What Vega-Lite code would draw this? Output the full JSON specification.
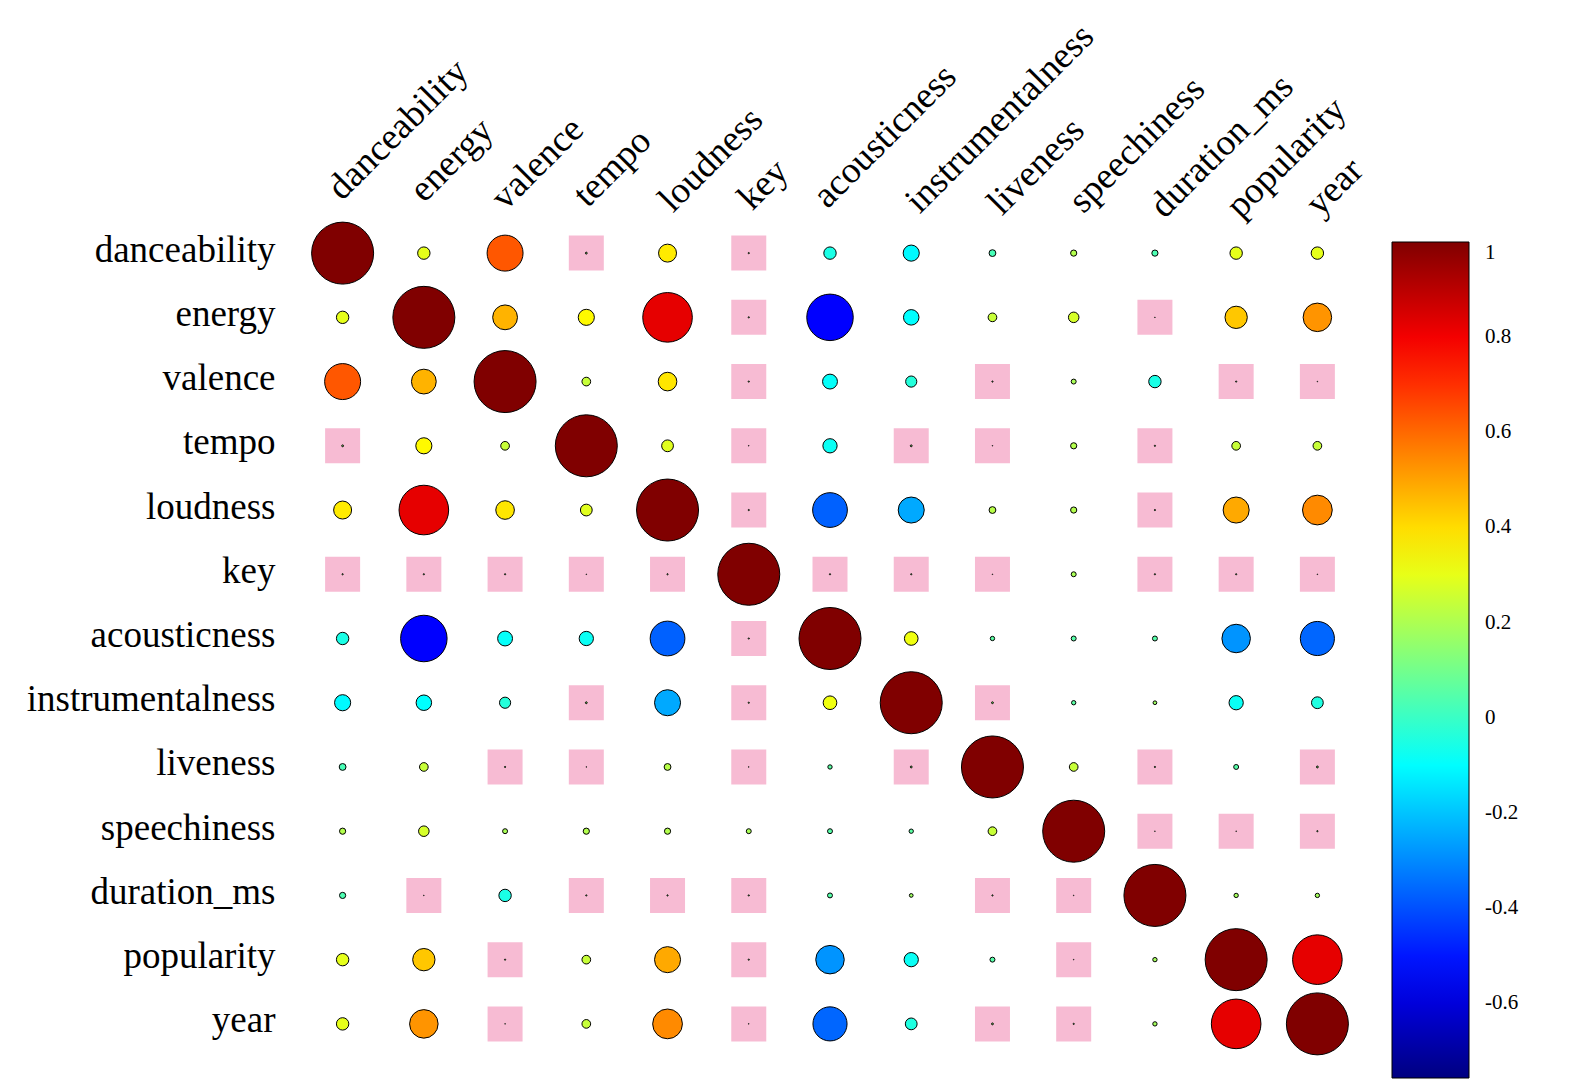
{
  "$schema": "https://vega.github.io/schema/vega-lite/v6.json",
  "autosize": {"type": "none"},
  "width": 1056,
  "height": 835,
  "padding": {"left": 302, "top": 221, "right": 232, "bottom": 23},
  "background": "white",
  "config": {"view": {"stroke": null}, "font": "Liberation Serif"},
  "data": {"values": [
    {"row":"danceability","col":"danceability","r":1,"m":1,"sig":1},
    {"row":"danceability","col":"energy","r":0.2,"m":0.2,"sig":1},
    {"row":"danceability","col":"valence","r":0.58,"m":0.58,"sig":1},
    {"row":"danceability","col":"tempo","r":0.03,"m":0.03,"sig":0},
    {"row":"danceability","col":"loudness","r":0.29,"m":0.29,"sig":1},
    {"row":"danceability","col":"key","r":0.02,"m":0.02,"sig":0},
    {"row":"danceability","col":"acousticness","r":-0.2,"m":0.2,"sig":1},
    {"row":"danceability","col":"instrumentalness","r":-0.26,"m":0.26,"sig":1},
    {"row":"danceability","col":"liveness","r":-0.11,"m":0.11,"sig":1},
    {"row":"danceability","col":"speechiness","r":0.1,"m":0.1,"sig":1},
    {"row":"danceability","col":"duration_ms","r":-0.1,"m":0.1,"sig":1},
    {"row":"danceability","col":"popularity","r":0.2,"m":0.2,"sig":1},
    {"row":"danceability","col":"year","r":0.2,"m":0.2,"sig":1},

    {"row":"energy","col":"danceability","r":0.2,"m":0.2,"sig":1},
    {"row":"energy","col":"energy","r":1,"m":1,"sig":1},
    {"row":"energy","col":"valence","r":0.4,"m":0.4,"sig":1},
    {"row":"energy","col":"tempo","r":0.26,"m":0.26,"sig":1},
    {"row":"energy","col":"loudness","r":0.8,"m":0.8,"sig":1},
    {"row":"energy","col":"key","r":0.02,"m":0.02,"sig":0},
    {"row":"energy","col":"acousticness","r":-0.75,"m":0.75,"sig":1},
    {"row":"energy","col":"instrumentalness","r":-0.25,"m":0.25,"sig":1},
    {"row":"energy","col":"liveness","r":0.14,"m":0.14,"sig":1},
    {"row":"energy","col":"speechiness","r":0.17,"m":0.17,"sig":1},
    {"row":"energy","col":"duration_ms","r":0.01,"m":0.01,"sig":0},
    {"row":"energy","col":"popularity","r":0.36,"m":0.36,"sig":1},
    {"row":"energy","col":"year","r":0.46,"m":0.46,"sig":1},

    {"row":"valence","col":"danceability","r":0.58,"m":0.58,"sig":1},
    {"row":"valence","col":"energy","r":0.4,"m":0.4,"sig":1},
    {"row":"valence","col":"valence","r":1,"m":1,"sig":1},
    {"row":"valence","col":"tempo","r":0.14,"m":0.14,"sig":1},
    {"row":"valence","col":"loudness","r":0.3,"m":0.3,"sig":1},
    {"row":"valence","col":"key","r":0.02,"m":0.02,"sig":0},
    {"row":"valence","col":"acousticness","r":-0.24,"m":0.24,"sig":1},
    {"row":"valence","col":"instrumentalness","r":-0.18,"m":0.18,"sig":1},
    {"row":"valence","col":"liveness","r":0.02,"m":0.02,"sig":0},
    {"row":"valence","col":"speechiness","r":0.08,"m":0.08,"sig":1},
    {"row":"valence","col":"duration_ms","r":-0.2,"m":0.2,"sig":1},
    {"row":"valence","col":"popularity","r":0.02,"m":0.02,"sig":0},
    {"row":"valence","col":"year","r":0.01,"m":0.01,"sig":0},

    {"row":"tempo","col":"danceability","r":0.03,"m":0.03,"sig":0},
    {"row":"tempo","col":"energy","r":0.26,"m":0.26,"sig":1},
    {"row":"tempo","col":"valence","r":0.14,"m":0.14,"sig":1},
    {"row":"tempo","col":"tempo","r":1,"m":1,"sig":1},
    {"row":"tempo","col":"loudness","r":0.19,"m":0.19,"sig":1},
    {"row":"tempo","col":"key","r":0.01,"m":0.01,"sig":0},
    {"row":"tempo","col":"acousticness","r":-0.23,"m":0.23,"sig":1},
    {"row":"tempo","col":"instrumentalness","r":0.03,"m":0.03,"sig":0},
    {"row":"tempo","col":"liveness","r":0.01,"m":0.01,"sig":0},
    {"row":"tempo","col":"speechiness","r":0.1,"m":0.1,"sig":1},
    {"row":"tempo","col":"duration_ms","r":0.02,"m":0.02,"sig":0},
    {"row":"tempo","col":"popularity","r":0.14,"m":0.14,"sig":1},
    {"row":"tempo","col":"year","r":0.14,"m":0.14,"sig":1},

    {"row":"loudness","col":"danceability","r":0.29,"m":0.29,"sig":1},
    {"row":"loudness","col":"energy","r":0.8,"m":0.8,"sig":1},
    {"row":"loudness","col":"valence","r":0.3,"m":0.3,"sig":1},
    {"row":"loudness","col":"tempo","r":0.19,"m":0.19,"sig":1},
    {"row":"loudness","col":"loudness","r":1,"m":1,"sig":1},
    {"row":"loudness","col":"key","r":0.02,"m":0.02,"sig":0},
    {"row":"loudness","col":"acousticness","r":-0.56,"m":0.56,"sig":1},
    {"row":"loudness","col":"instrumentalness","r":-0.42,"m":0.42,"sig":1},
    {"row":"loudness","col":"liveness","r":0.11,"m":0.11,"sig":1},
    {"row":"loudness","col":"speechiness","r":0.1,"m":0.1,"sig":1},
    {"row":"loudness","col":"duration_ms","r":0.02,"m":0.02,"sig":0},
    {"row":"loudness","col":"popularity","r":0.42,"m":0.42,"sig":1},
    {"row":"loudness","col":"year","r":0.48,"m":0.48,"sig":1},

    {"row":"key","col":"danceability","r":0.02,"m":0.02,"sig":0},
    {"row":"key","col":"energy","r":0.02,"m":0.02,"sig":0},
    {"row":"key","col":"valence","r":0.02,"m":0.02,"sig":0},
    {"row":"key","col":"tempo","r":0.01,"m":0.01,"sig":0},
    {"row":"key","col":"loudness","r":0.02,"m":0.02,"sig":0},
    {"row":"key","col":"key","r":1,"m":1,"sig":1},
    {"row":"key","col":"acousticness","r":0.02,"m":0.02,"sig":0},
    {"row":"key","col":"instrumentalness","r":0.02,"m":0.02,"sig":0},
    {"row":"key","col":"liveness","r":0.01,"m":0.01,"sig":0},
    {"row":"key","col":"speechiness","r":0.08,"m":0.08,"sig":1},
    {"row":"key","col":"duration_ms","r":0.02,"m":0.02,"sig":0},
    {"row":"key","col":"popularity","r":0.02,"m":0.02,"sig":0},
    {"row":"key","col":"year","r":0.01,"m":0.01,"sig":0},

    {"row":"acousticness","col":"danceability","r":-0.2,"m":0.2,"sig":1},
    {"row":"acousticness","col":"energy","r":-0.75,"m":0.75,"sig":1},
    {"row":"acousticness","col":"valence","r":-0.24,"m":0.24,"sig":1},
    {"row":"acousticness","col":"tempo","r":-0.23,"m":0.23,"sig":1},
    {"row":"acousticness","col":"loudness","r":-0.56,"m":0.56,"sig":1},
    {"row":"acousticness","col":"key","r":0.02,"m":0.02,"sig":0},
    {"row":"acousticness","col":"acousticness","r":1,"m":1,"sig":1},
    {"row":"acousticness","col":"instrumentalness","r":0.22,"m":0.22,"sig":1},
    {"row":"acousticness","col":"liveness","r":-0.07,"m":0.07,"sig":1},
    {"row":"acousticness","col":"speechiness","r":-0.08,"m":0.08,"sig":1},
    {"row":"acousticness","col":"duration_ms","r":-0.08,"m":0.08,"sig":1},
    {"row":"acousticness","col":"popularity","r":-0.46,"m":0.46,"sig":1},
    {"row":"acousticness","col":"year","r":-0.55,"m":0.55,"sig":1},

    {"row":"instrumentalness","col":"danceability","r":-0.26,"m":0.26,"sig":1},
    {"row":"instrumentalness","col":"energy","r":-0.25,"m":0.25,"sig":1},
    {"row":"instrumentalness","col":"valence","r":-0.18,"m":0.18,"sig":1},
    {"row":"instrumentalness","col":"tempo","r":0.03,"m":0.03,"sig":0},
    {"row":"instrumentalness","col":"loudness","r":-0.42,"m":0.42,"sig":1},
    {"row":"instrumentalness","col":"key","r":0.02,"m":0.02,"sig":0},
    {"row":"instrumentalness","col":"acousticness","r":0.22,"m":0.22,"sig":1},
    {"row":"instrumentalness","col":"instrumentalness","r":1,"m":1,"sig":1},
    {"row":"instrumentalness","col":"liveness","r":0.03,"m":0.03,"sig":0},
    {"row":"instrumentalness","col":"speechiness","r":-0.07,"m":0.07,"sig":1},
    {"row":"instrumentalness","col":"duration_ms","r":0.06,"m":0.06,"sig":1},
    {"row":"instrumentalness","col":"popularity","r":-0.23,"m":0.23,"sig":1},
    {"row":"instrumentalness","col":"year","r":-0.19,"m":0.19,"sig":1},

    {"row":"liveness","col":"danceability","r":-0.11,"m":0.11,"sig":1},
    {"row":"liveness","col":"energy","r":0.14,"m":0.14,"sig":1},
    {"row":"liveness","col":"valence","r":0.02,"m":0.02,"sig":0},
    {"row":"liveness","col":"tempo","r":0.01,"m":0.01,"sig":0},
    {"row":"liveness","col":"loudness","r":0.11,"m":0.11,"sig":1},
    {"row":"liveness","col":"key","r":0.01,"m":0.01,"sig":0},
    {"row":"liveness","col":"acousticness","r":-0.07,"m":0.07,"sig":1},
    {"row":"liveness","col":"instrumentalness","r":0.03,"m":0.03,"sig":0},
    {"row":"liveness","col":"liveness","r":1,"m":1,"sig":1},
    {"row":"liveness","col":"speechiness","r":0.14,"m":0.14,"sig":1},
    {"row":"liveness","col":"duration_ms","r":0.02,"m":0.02,"sig":0},
    {"row":"liveness","col":"popularity","r":-0.08,"m":0.08,"sig":1},
    {"row":"liveness","col":"year","r":0.03,"m":0.03,"sig":0},

    {"row":"speechiness","col":"danceability","r":0.1,"m":0.1,"sig":1},
    {"row":"speechiness","col":"energy","r":0.17,"m":0.17,"sig":1},
    {"row":"speechiness","col":"valence","r":0.08,"m":0.08,"sig":1},
    {"row":"speechiness","col":"tempo","r":0.1,"m":0.1,"sig":1},
    {"row":"speechiness","col":"loudness","r":0.1,"m":0.1,"sig":1},
    {"row":"speechiness","col":"key","r":0.08,"m":0.08,"sig":1},
    {"row":"speechiness","col":"acousticness","r":-0.08,"m":0.08,"sig":1},
    {"row":"speechiness","col":"instrumentalness","r":-0.07,"m":0.07,"sig":1},
    {"row":"speechiness","col":"liveness","r":0.14,"m":0.14,"sig":1},
    {"row":"speechiness","col":"speechiness","r":1,"m":1,"sig":1},
    {"row":"speechiness","col":"duration_ms","r":0.01,"m":0.01,"sig":0},
    {"row":"speechiness","col":"popularity","r":0.01,"m":0.01,"sig":0},
    {"row":"speechiness","col":"year","r":0.02,"m":0.02,"sig":0},

    {"row":"duration_ms","col":"danceability","r":-0.1,"m":0.1,"sig":1},
    {"row":"duration_ms","col":"energy","r":0.01,"m":0.01,"sig":0},
    {"row":"duration_ms","col":"valence","r":-0.2,"m":0.2,"sig":1},
    {"row":"duration_ms","col":"tempo","r":0.02,"m":0.02,"sig":0},
    {"row":"duration_ms","col":"loudness","r":0.02,"m":0.02,"sig":0},
    {"row":"duration_ms","col":"key","r":0.02,"m":0.02,"sig":0},
    {"row":"duration_ms","col":"acousticness","r":-0.08,"m":0.08,"sig":1},
    {"row":"duration_ms","col":"instrumentalness","r":0.06,"m":0.06,"sig":1},
    {"row":"duration_ms","col":"liveness","r":0.02,"m":0.02,"sig":0},
    {"row":"duration_ms","col":"speechiness","r":0.01,"m":0.01,"sig":0},
    {"row":"duration_ms","col":"duration_ms","r":1,"m":1,"sig":1},
    {"row":"duration_ms","col":"popularity","r":0.07,"m":0.07,"sig":1},
    {"row":"duration_ms","col":"year","r":0.07,"m":0.07,"sig":1},

    {"row":"popularity","col":"danceability","r":0.2,"m":0.2,"sig":1},
    {"row":"popularity","col":"energy","r":0.36,"m":0.36,"sig":1},
    {"row":"popularity","col":"valence","r":0.02,"m":0.02,"sig":0},
    {"row":"popularity","col":"tempo","r":0.14,"m":0.14,"sig":1},
    {"row":"popularity","col":"loudness","r":0.42,"m":0.42,"sig":1},
    {"row":"popularity","col":"key","r":0.02,"m":0.02,"sig":0},
    {"row":"popularity","col":"acousticness","r":-0.46,"m":0.46,"sig":1},
    {"row":"popularity","col":"instrumentalness","r":-0.23,"m":0.23,"sig":1},
    {"row":"popularity","col":"liveness","r":-0.08,"m":0.08,"sig":1},
    {"row":"popularity","col":"speechiness","r":0.01,"m":0.01,"sig":0},
    {"row":"popularity","col":"duration_ms","r":0.07,"m":0.07,"sig":1},
    {"row":"popularity","col":"popularity","r":1,"m":1,"sig":1},
    {"row":"popularity","col":"year","r":0.8,"m":0.8,"sig":1},

    {"row":"year","col":"danceability","r":0.2,"m":0.2,"sig":1},
    {"row":"year","col":"energy","r":0.46,"m":0.46,"sig":1},
    {"row":"year","col":"valence","r":0.01,"m":0.01,"sig":0},
    {"row":"year","col":"tempo","r":0.14,"m":0.14,"sig":1},
    {"row":"year","col":"loudness","r":0.48,"m":0.48,"sig":1},
    {"row":"year","col":"key","r":0.01,"m":0.01,"sig":0},
    {"row":"year","col":"acousticness","r":-0.55,"m":0.55,"sig":1},
    {"row":"year","col":"instrumentalness","r":-0.19,"m":0.19,"sig":1},
    {"row":"year","col":"liveness","r":0.03,"m":0.03,"sig":0},
    {"row":"year","col":"speechiness","r":0.02,"m":0.02,"sig":0},
    {"row":"year","col":"duration_ms","r":0.07,"m":0.07,"sig":1},
    {"row":"year","col":"popularity","r":0.8,"m":0.8,"sig":1},
    {"row":"year","col":"year","r":1,"m":1,"sig":1}
  ]},
  "encoding": {
    "x": {
      "field": "col", "type": "nominal",
      "sort": ["danceability","energy","valence","tempo","loudness","key","acousticness","instrumentalness","liveness","speechiness","duration_ms","popularity","year"],
      "scale": {"paddingInner": 0, "paddingOuter": 0},
      "axis": {
        "orient": "top", "title": null, "domain": false, "ticks": false, "tickSize": 0, "grid": false,
        "labelAngle": -45, "labelAlign": "left", "labelBaseline": "alphabetic",
        "labelFont": "Liberation Serif", "labelFontSize": 37, "labelColor": "black",
        "labelLimit": 0, "labelOverlap": false, "labelBound": false,
        "labelOffset": {
          "condition": [
            {"test": "datum.value === 'danceability'", "value": -1},
            {"test": "datum.value === 'energy'", "value": 0},
            {"test": "datum.value === 'valence'", "value": 0},
            {"test": "datum.value === 'tempo'", "value": 1},
            {"test": "datum.value === 'loudness'", "value": 5},
            {"test": "datum.value === 'key'", "value": 3},
            {"test": "datum.value === 'acousticness'", "value": -3},
            {"test": "datum.value === 'instrumentalness'", "value": 8},
            {"test": "datum.value === 'liveness'", "value": 9},
            {"test": "datum.value === 'speechiness'", "value": 9},
            {"test": "datum.value === 'duration_ms'", "value": 9},
            {"test": "datum.value === 'popularity'", "value": 4}
          ],
          "value": 2
        },
        "labelPadding": {
          "condition": [
            {"test": "datum.value === 'danceability'", "value": 20},
            {"test": "datum.value === 'energy'", "value": 18},
            {"test": "datum.value === 'valence'", "value": 10},
            {"test": "datum.value === 'tempo'", "value": 13},
            {"test": "datum.value === 'loudness'", "value": 8},
            {"test": "datum.value === 'key'", "value": 10},
            {"test": "datum.value === 'acousticness'", "value": 12},
            {"test": "datum.value === 'instrumentalness'", "value": 7},
            {"test": "datum.value === 'liveness'", "value": 5},
            {"test": "datum.value === 'speechiness'", "value": 7},
            {"test": "datum.value === 'duration_ms'", "value": 2},
            {"test": "datum.value === 'popularity'", "value": 2}
          ],
          "value": 4
        }
      }
    },
    "y": {
      "field": "row", "type": "nominal",
      "sort": ["danceability","energy","valence","tempo","loudness","key","acousticness","instrumentalness","liveness","speechiness","duration_ms","popularity","year"],
      "scale": {"paddingInner": 0, "paddingOuter": 0},
      "axis": {
        "orient": "left", "title": null, "domain": false, "ticks": false, "tickSize": 0, "grid": false,
        "labelFont": "Liberation Serif", "labelFontSize": 37, "labelColor": "black",
        "labelPadding": 27, "labelLimit": 0, "labelOffset": -3
      }
    }
  },
  "layer": [
    {
      "transform": [{"filter": "datum.sig == 0"}],
      "mark": {"type": "square", "color": "#F7BBD3", "opacity": 1, "size": 1225}
    },
    {
      "mark": {"type": "circle", "stroke": "black", "strokeWidth": 1, "opacity": 1},
      "encoding": {
        "size": {"field": "m", "type": "quantitative", "scale": {"type": "pow", "exponent": 2, "domain": [0, 1], "range": [0, 3844]}, "legend": null},
        "color": {"field": "r", "type": "quantitative", "legend": null,
          "scale": {"domain": [-1, 1], "interpolate": "rgb",
            "range": ["#000080","#0000FF","#0080FF","#00FFFF","#80FF80","#FFFF00","#FF8000","#FF0000","#800000"]}}
      }
    },
    {
      "mark": {"type": "circle", "opacity": 0},
      "encoding": {
        "color": {"field": "r", "type": "quantitative",
          "scale": {"domain": [-0.757, 1], "interpolate": "rgb",
            "range": ["#000080","#0000FF","#0080FF","#00FFFF","#80FF80","#FFFF00","#FF8000","#FF0000","#800000"]},
          "legend": {
            "orient": "none", "legendX": 1090, "legendY": 21, "direction": "vertical",
            "title": null, "gradientLength": 836, "gradientThickness": 77,
            "gradientStrokeColor": "black", "gradientStrokeWidth": 1,
            "values": [1, 0.8, 0.6, 0.4, 0.2, 0, -0.2, -0.4, -0.6],
            "format": ".1~f",
            "labelExpr": "replace(datum.label, '\u2212', '-')",
            "labelFont": "Liberation Serif", "labelFontSize": 21, "labelColor": "black",
            "labelOffset": 16, "labelOverlap": false
          }
        }
      }
    }
  ],
  "resolve": {"scale": {"color": "independent"}}
}
